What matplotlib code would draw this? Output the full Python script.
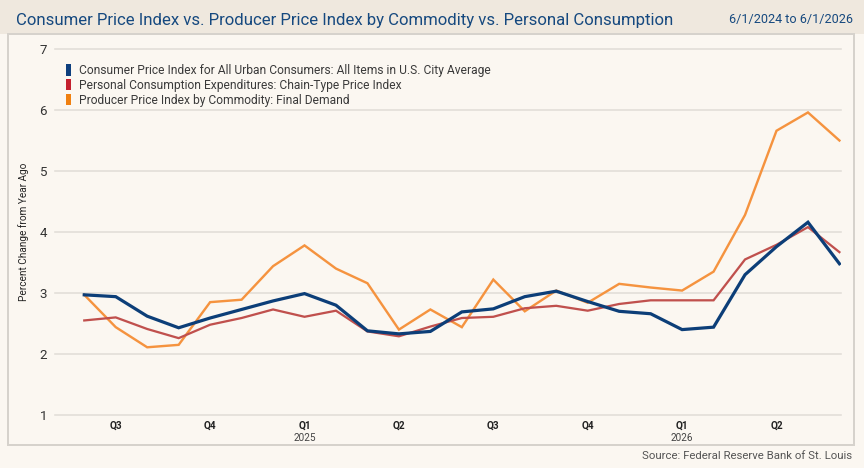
import matplotlib
matplotlib.use("Agg")
import matplotlib.pyplot as plt
from matplotlib.patches import Patch, Rectangle
import numpy as np

# monthly, 6/1/2024 .. 6/1/2026
months = ["2024-06", "2024-07", "2024-08", "2024-09", "2024-10", "2024-11", "2024-12",
          "2025-01", "2025-02", "2025-03", "2025-04", "2025-05", "2025-06", "2025-07",
          "2025-08", "2025-09", "2025-10", "2025-11", "2025-12", "2026-01", "2026-02",
          "2026-03", "2026-04", "2026-05", "2026-06"]
cpi = [2.97, 2.94, 2.62, 2.43, 2.59, 2.73, 2.87, 2.99, 2.80, 2.38, 2.33, 2.37, 2.69,
       2.74, 2.94, 3.03, 2.86, 2.70, 2.66, 2.40, 2.44, 3.30, 3.76, 4.16, 3.48]
pce = [2.55, 2.60, 2.41, 2.26, 2.48, 2.59, 2.73, 2.61, 2.71, 2.37, 2.29, 2.45, 2.59,
       2.61, 2.75, 2.79, 2.71, 2.82, 2.88, 2.88, 2.88, 3.55, 3.79, 4.08, 3.67]
ppi = [2.97, 2.44, 2.11, 2.15, 2.85, 2.89, 3.44, 3.78, 3.40, 3.16, 2.40, 2.73, 2.44,
       3.22, 2.70, 3.04, 2.84, 3.15, 3.09, 3.04, 3.35, 4.28, 5.66, 5.96, 5.50]
series_names = ["Consumer Price Index for All Urban Consumers: All Items in U.S. City Average",
                "Personal Consumption Expenditures: Chain-Type Price Index",
                "Producer Price Index by Commodity: Final Demand"]
quarter_labels = ["Q3", "Q4", "Q1", "Q2", "Q3", "Q4", "Q1", "Q2"]
quarter_idx = [1, 4, 7, 10, 13, 16, 19, 22]
year_labels = {7: "2025", 19: "2026"}

FONT = ["Roboto", "DejaVu Sans"]
plt.rcParams["font.family"] = FONT

BG = "#fbf7f1"
HEADER = "#efe8de"
TITLE_C = "#16497f"
line_cols = ["#0c3e78", "#c0504d", "#f5933f"]
swatch_cols = ["#0e3f7e", "#c4202f", "#f08010"]

W, H = 864, 468
fig = plt.figure(figsize=(W / 96, H / 96), dpi=96)
fig.patch.set_facecolor(BG)

# header band and panel frame
fig.add_artist(Rectangle((0, 1 - 34 / H), 1, 34 / H, transform=fig.transFigure,
                         facecolor=HEADER, edgecolor="none", zorder=0))
fig.add_artist(Rectangle((8 / W, 1 - 445 / H), 846 / W, (445 - 34) / H,
                         transform=fig.transFigure, facecolor=BG,
                         edgecolor="#d6d2cc", linewidth=1.5, zorder=0))

fig.text(16 / W, 1 - 20 / H,
         "Consumer Price Index vs. Producer Price Index by Commodity vs. Personal Consumption",
         fontsize=12.6, color=TITLE_C, va="center", ha="left")
fig.text(853 / W, 1 - 20 / H, "6/1/2024 to 6/1/2026", fontsize=9.5,
         color=TITLE_C, va="center", ha="right")
fig.text(852 / W, 1 - 456 / H, "Source: Federal Reserve Bank of St. Louis",
         fontsize=8.5, color="#555555", va="center", ha="right")

ax = fig.add_axes([55 / W, 1 - 415 / H, (841 - 55) / W, (415 - 49) / H])
ax.set_facecolor("none")
x = np.arange(len(months))
for vals, col, lw in zip([ppi, pce, cpi], [line_cols[2], line_cols[1], line_cols[0]],
                         [1.8, 1.7, 2.4]):
    ax.plot(x, vals, color=col, linewidth=lw, solid_joinstyle="miter")

ax.set_xlim(-0.93, 24.05)
ax.set_ylim(1, 7)
ax.set_yticks(range(1, 8))
ax.grid(axis="y", color="#e2ddd7", linewidth=1.2)
for gl in ax.get_ygridlines():
    gl.set_clip_on(False)
ax.set_axisbelow(True)
for s in ax.spines.values():
    s.set_visible(False)
ax.tick_params(axis="y", length=0, pad=6, labelsize=10, labelcolor="#333333")
ax.set_xticks(quarter_idx)
ax.set_xticklabels(quarter_labels, fontsize=7.5, fontweight="bold", color="#222222")
ax.tick_params(axis="x", length=0, pad=4)
for i, yr in year_labels.items():
    ax.text(i, -0.05, yr, transform=ax.get_xaxis_transform(), ha="center",
            va="top", fontsize=7.5, color="#444444")
ax.set_ylabel("Percent Change from Year Ago", fontsize=7.5, color="#222222",
              labelpad=8)

handles = [Patch(facecolor=c, edgecolor="none") for c in swatch_cols]
leg = ax.legend(handles, series_names, loc="upper left",
                bbox_to_anchor=(60 / W, 1 - 58 / H), bbox_transform=fig.transFigure,
                frameon=False, fontsize=9, handlelength=0.45, handleheight=1.1,
                handletextpad=0.6, labelspacing=0.15, borderpad=0)
for t in leg.get_texts():
    t.set_color("#3a3a3a")

fig.savefig("out.png", dpi=96, facecolor=BG)
